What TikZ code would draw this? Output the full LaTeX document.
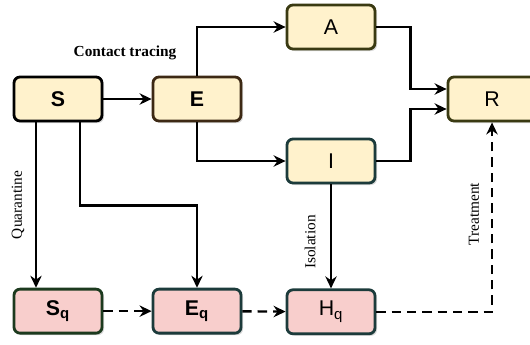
\documentclass[tikz,border=0pt]{standalone}
\usepackage{fontspec}
\setmainfont{Liberation Serif}
\setsansfont{Liberation Sans}
\usepackage{tikz}
\usetikzlibrary{arrows.meta,positioning,shadows}

\definecolor{boxyellow}{HTML}{FFF2CC}
\definecolor{boxpink}{HTML}{F8CECC}
\definecolor{edgebrown}{HTML}{3D2914}
\definecolor{edgeolive}{HTML}{3A3A12}
\definecolor{edgeteal}{HTML}{1C3B3B}
\definecolor{edgegreen}{HTML}{1C3A1E}

\begin{document}
\begin{tikzpicture}[x=0.75pt, y=-0.75pt, >=Stealth,
    box/.style={rectangle,rounded corners=4.5pt,line width=2.1pt,minimum width=66pt,minimum height=33pt,
      font=\sffamily\fontsize{16}{18}\selectfont,
      drop shadow={shadow xshift=1.5pt,shadow yshift=-1.5pt,opacity=0.3}},
    bbox/.style={font=\sffamily\bfseries\fontsize{16}{18}\selectfont},
    ybox/.style={box,fill=boxyellow},
    pbox/.style={box,fill=boxpink},
    line/.style={draw=black,line width=1.8pt,-{Stealth[length=9pt,width=8.5pt]}},
    dline/.style={line,dash pattern=on 7pt off 4.5pt},
    lbl/.style={font=\fontsize{11.5}{13}\selectfont}]
    \clip (0,0) rectangle (530,344);
    \node[ybox,draw=black,bbox] (s) at (58,99) {S};
    \node[ybox,draw=edgebrown,bbox] (e) at (197,99) {E};
    \node[ybox,draw=edgeolive] (a) at (331,27) {A};
    \node[ybox,draw=edgeteal] (i) at (331,161) {I};
    \node[ybox,draw=edgeolive] (r) at (492,99) {R};
    \node[pbox,draw=edgegreen,bbox,below=124pt of s] (sq) {S\textsubscript{q}};
    \node[pbox,draw=edgeteal,bbox,below=124pt of e] (eq) {E\textsubscript{q}};
    \node[pbox,draw=edgeteal,below=78pt of i] (hq) {H\textsubscript{q}};
    % labels
    \node[lbl,font=\bfseries\fontsize{11.5}{13}\selectfont] (ct) at (125,53) {Contact tracing};
    \node[lbl,rotate=90] (ql) at (18,205) {Quarantine};
    \node[lbl,rotate=90] (il) at (310,242) {Isolation};
    \node[lbl,rotate=90] (tl) at (474,214) {Treatment};
    % connectors
    \path[line] (s)--(e);
    \path[line] (e.north) |- (a);
    \path[line] (e.south) |- (i);
    \path[line] (a.east) -- ++(34,0) |- ([yshift=7.5pt]r.west);
    \path[line] (i.east) -- ++(34,0) |- ([yshift=-7.5pt]r.west);
    \path[line] ([xshift=-16.5pt]s.south) -- ([xshift=-16.5pt]sq.north);
    \path[line] ([xshift=16.5pt]s.south) -- ++(0,83) -| (eq.north);
    \path[line] (i)--(hq);
    \path[dline] (sq)--(eq); \path[dline] (eq)--(hq);
    \path[dline] (hq.east) -| (r.south);
  \end{tikzpicture}
\end{document}
